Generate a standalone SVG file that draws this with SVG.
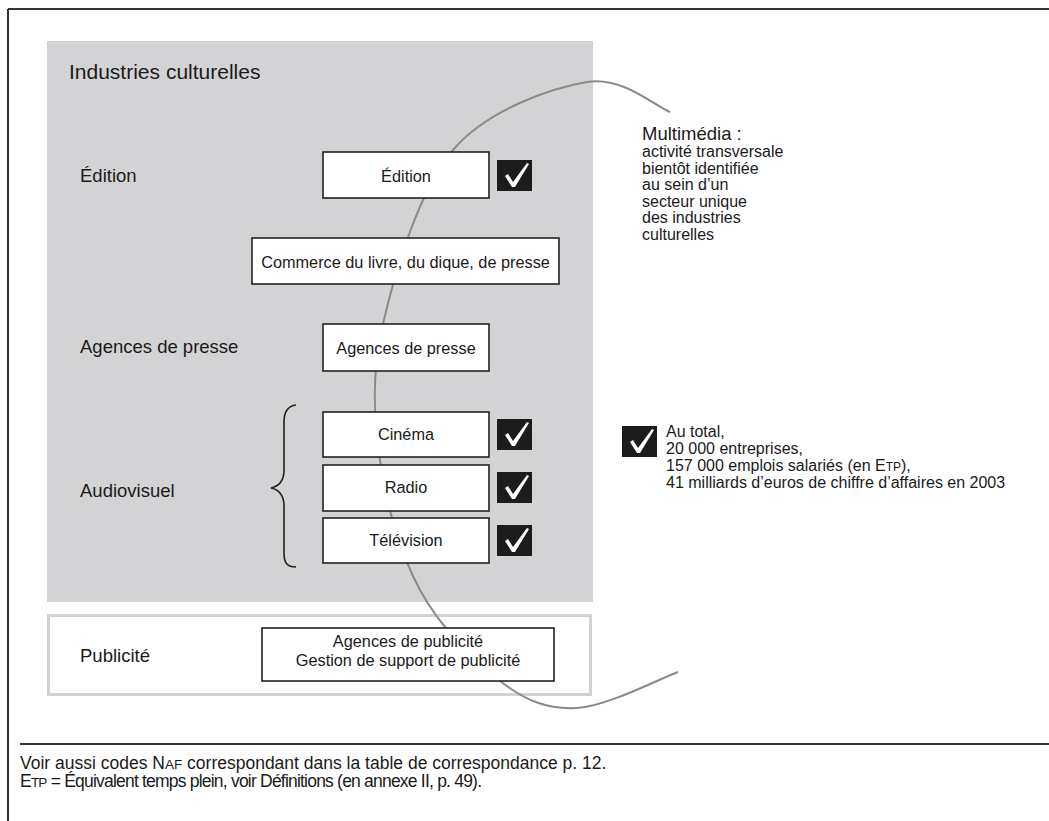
<svg xmlns="http://www.w3.org/2000/svg" width="1049" height="821" viewBox="0 0 1049 821">
  <style>
    text { font-family: "Liberation Sans", Arial, sans-serif; fill: #1a1a1a; }
    .lbl { font-size: 18.5px; }
    .box { fill: #ffffff; stroke: #222222; stroke-width: 1.6; }
    .bt { font-size: 16.3px; text-anchor: middle; }
    .side { font-size: 16px; }
    .foot { font-size: 17.5px; }
    .chk { fill: #1c1c1c; }
    .tick { fill: #ffffff; }
  </style>
  <defs>
    <g id="check">
      <rect class="chk" x="0" y="0" width="35" height="31"/>
      <polygon class="tick" points="8,16 11,14 16,22 30,3 32,4 18,27 15,27"/>
    </g>
  </defs>

  <rect width="1049" height="821" fill="#ffffff"/>

  <g id="frame" stroke="#333333" stroke-width="2" fill="none">
    <line x1="8" y1="9" x2="1049" y2="9"/>
    <line x1="8" y1="9" x2="8" y2="821"/>
    <line x1="20" y1="744" x2="1049" y2="744"/>
  </g>

  <g id="industries">
    <rect x="47" y="41" width="546" height="561" fill="#d3d3d5"/>
    <text x="69" y="79" font-size="21">Industries culturelles</text>
  </g>

  <g id="publicite-zone">
    <rect x="48.5" y="615.5" width="542" height="79" fill="#ffffff" stroke="#d2d2d4" stroke-width="3"/>
  </g>

  <g id="connectors">
    <path d="M670,112 C656,107 623,76 587,82 C551,88 487,110 453,150 C419,190 395,272 383,324 C371,376 374,416 380,460 C386,504 400,553 420,590 C440,627 474,661 500,681 C526,701 547,709.5 577,708 C607,706.5 661,678 678,672" fill="none" stroke="#8a8a8a" stroke-width="2"/>
    <path d="M296,405 C287,406 284,412 284,422 L284,470 C284,480 280,486 271,488 C280,490 284,496 284,506 L284,553 C284,563 287,567 296,567" fill="none" stroke="#222222" stroke-width="1.6"/>
  </g>

  <g id="labels">
    <text class="lbl" x="80" y="182">Édition</text>
    <text class="lbl" x="80" y="353">Agences de presse</text>
    <text class="lbl" x="80" y="497">Audiovisuel</text>
    <text class="lbl" x="80" y="662">Publicité</text>
  </g>

  <g id="node-edition">
    <rect class="box" x="323" y="152" width="166" height="46"/>
    <text class="bt" x="406" y="182">Édition</text>
    <use href="#check" x="497" y="160"/>
  </g>

  <g id="node-commerce">
    <rect class="box" x="252" y="238" width="307" height="46"/>
    <text class="bt" x="405.5" y="268">Commerce du livre, du dique, de presse</text>
  </g>

  <g id="node-agences">
    <rect class="box" x="323" y="324" width="166" height="47"/>
    <text class="bt" x="406" y="354">Agences de presse</text>
  </g>

  <g id="node-cinema">
    <rect class="box" x="323" y="412" width="166" height="45"/>
    <text class="bt" x="406" y="440">Cinéma</text>
    <use href="#check" x="497" y="419"/>
  </g>

  <g id="node-radio">
    <rect class="box" x="323" y="465" width="166" height="46"/>
    <text class="bt" x="406" y="493">Radio</text>
    <use href="#check" x="497" y="472"/>
  </g>

  <g id="node-television">
    <rect class="box" x="323" y="518" width="166" height="45"/>
    <text class="bt" x="406" y="546">Télévision</text>
    <use href="#check" x="497" y="525"/>
  </g>

  <g id="node-publicite">
    <rect class="box" x="262" y="628" width="292" height="53"/>
    <text class="bt" x="408" y="647" font-size="15.8">Agences de publicité</text>
    <text class="bt" x="408" y="666" font-size="15.8">Gestion de support de publicité</text>
  </g>

  <g id="multimedia">
    <text x="642" y="140" font-size="18.5">Multimédia :</text>
    <text class="side" x="642" y="157">activité transversale</text>
    <text class="side" x="642" y="174">bientôt identifiée</text>
    <text class="side" x="642" y="190">au sein d’un</text>
    <text class="side" x="642" y="207">secteur unique</text>
    <text class="side" x="642" y="223">des industries</text>
    <text class="side" x="642" y="240">culturelles</text>
  </g>

  <g id="total">
    <use href="#check" x="622" y="426"/>
    <text class="side" x="666" y="437">Au total,</text>
    <text class="side" x="666" y="454">20 000 entreprises,</text>
    <text class="side" x="666" y="471">157 000 emplois salariés (en E<tspan font-size="12">TP</tspan>),</text>
    <text class="side" x="666" y="488">41 milliards d’euros de chiffre d’affaires en 2003</text>
  </g>

  <g id="footer">
    <text class="foot" x="20" y="769">Voir aussi codes N<tspan font-size="13.5">AF</tspan> correspondant dans la table de correspondance p. 12.</text>
    <text class="foot" x="20" y="787" textLength="462">E<tspan font-size="13.5">TP</tspan> = Équivalent temps plein, voir Définitions (en annexe II, p. 49).</text>
  </g>
</svg>
